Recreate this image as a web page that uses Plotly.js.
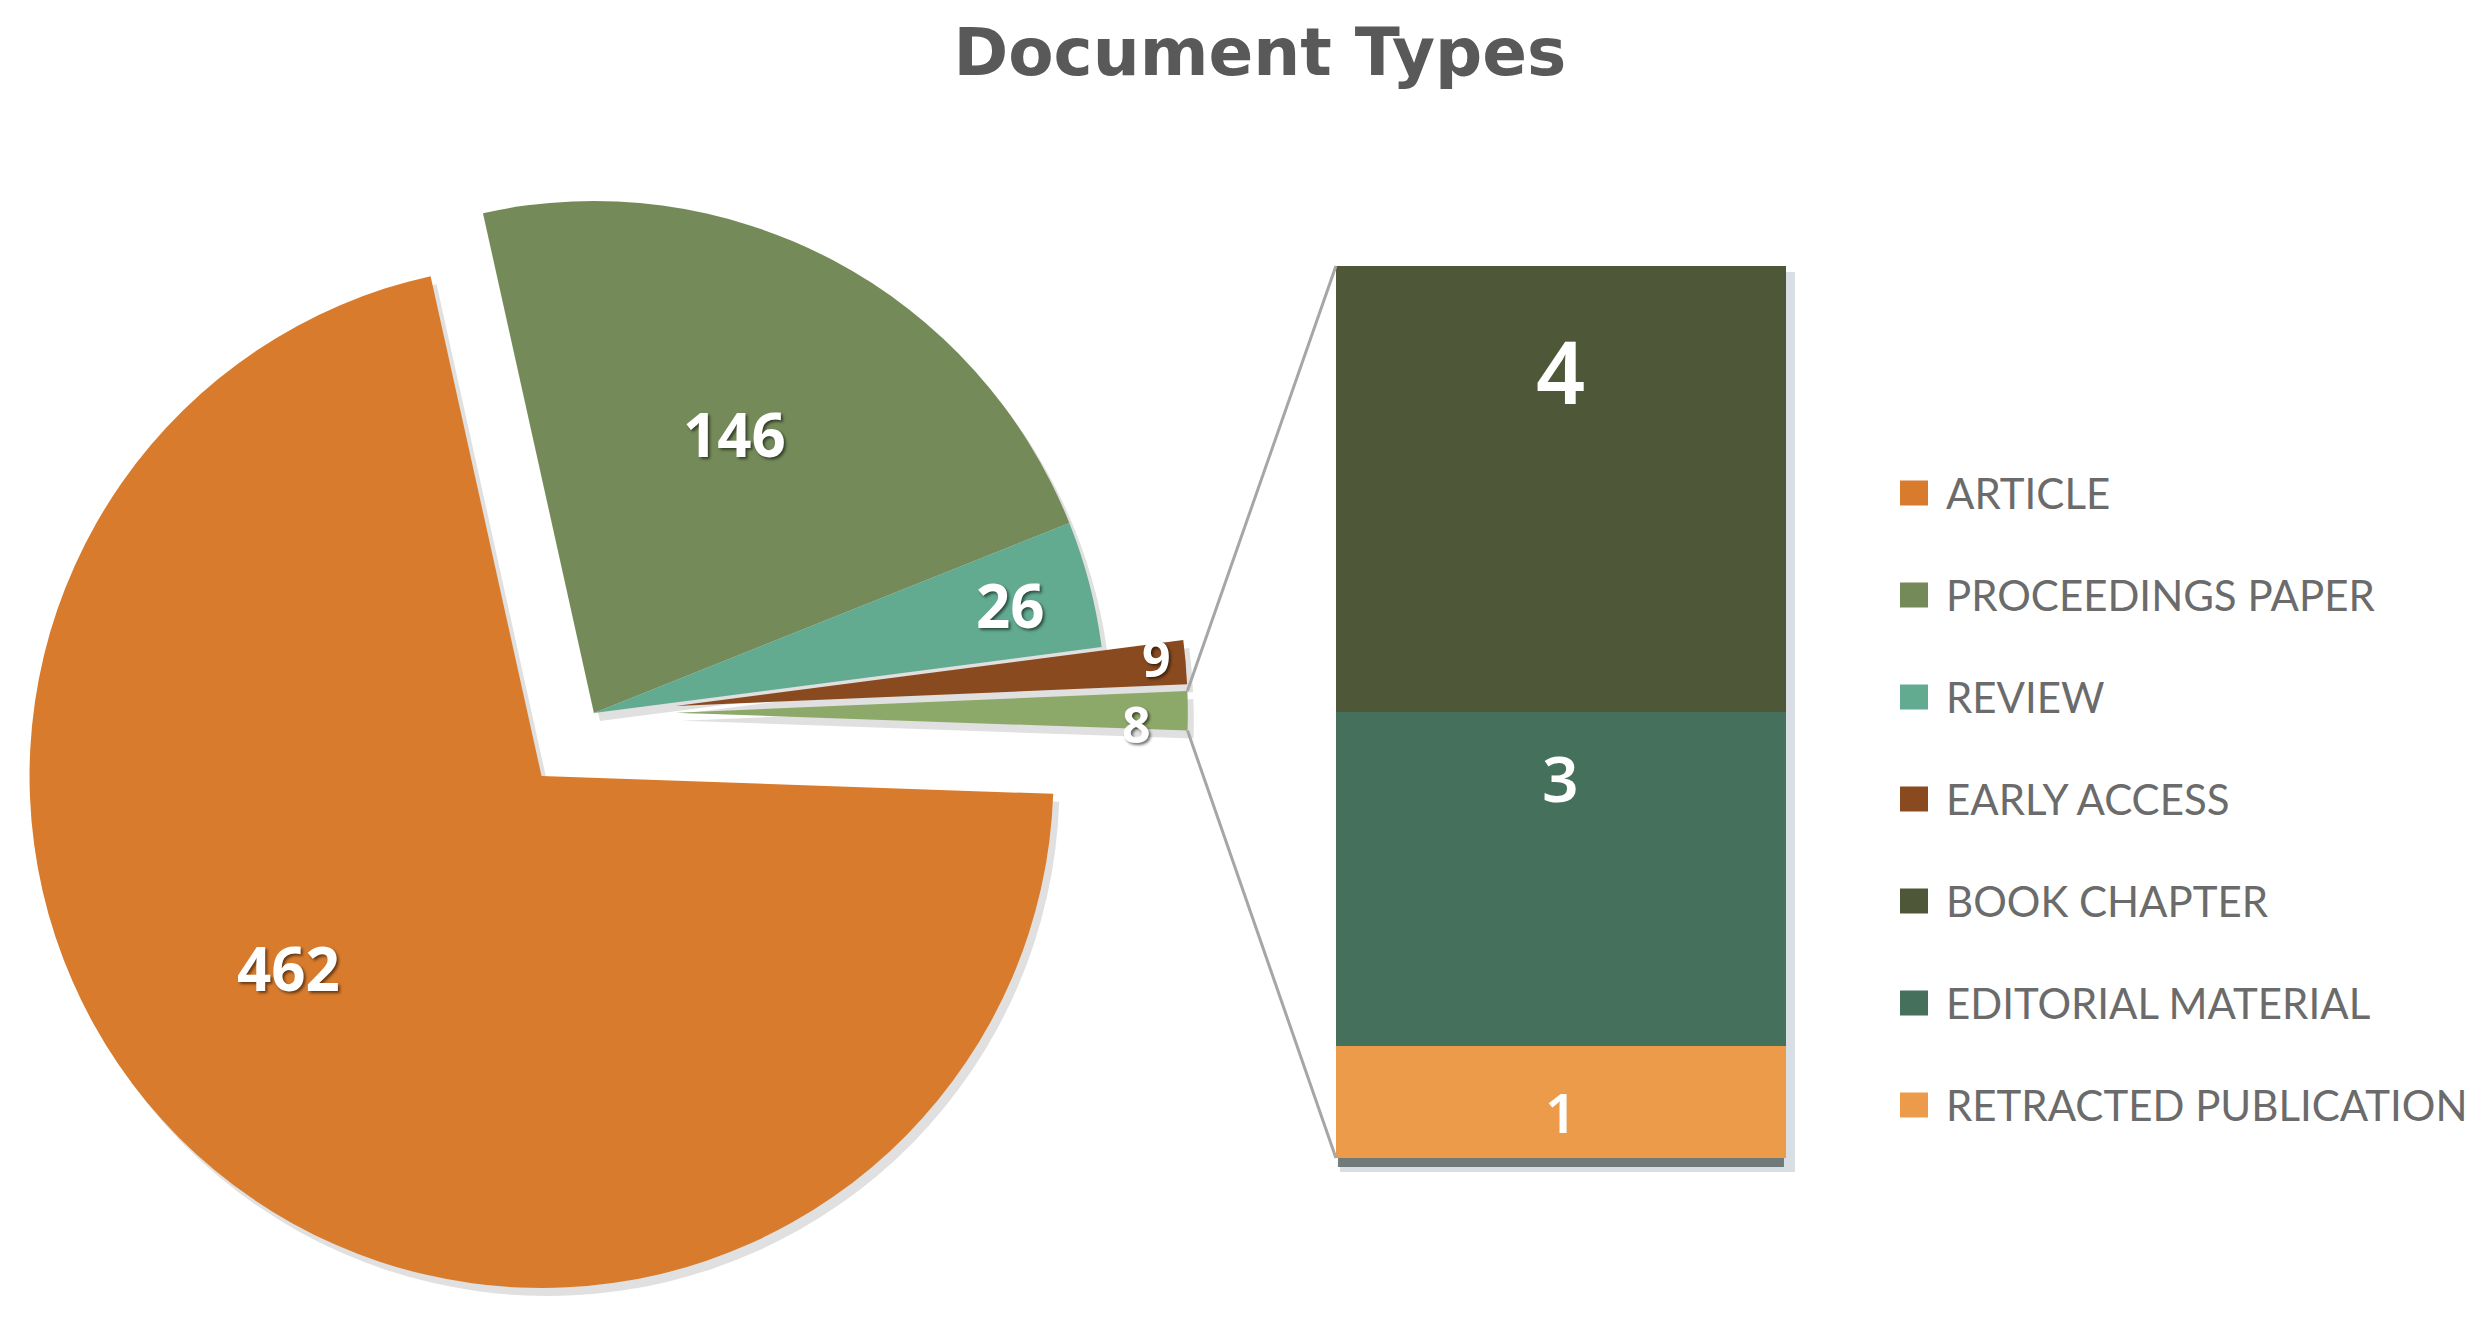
<!DOCTYPE html>
<html>
<head>
<meta charset="utf-8">
<script src="https://cdn.plot.ly/plotly-3.0.1.min.js"></script>
<style>html,body{margin:0;padding:0;background:#fff}#chart{width:2485px;height:1321px}</style>
</head>
<body>
<div id="chart"></div>
<script>
// pie of bar: the last pie slice ("OTHER") is split up in the stacked bar
const pieLabels = ["ARTICLE", "PROCEEDINGS PAPER", "REVIEW", "EARLY ACCESS", "OTHER"];
const pieValues = [462, 146, 26, 9, 8];
const pieColors = ["#D97B2C", "#748B59", "#62AB91", "#8A4A1F", "#8DA96A"];
const piePull = [0.16, 0, 0, 0.16, 0.16];

// stacked bar, bottom to top
const barLabels = ["RETRACTED PUBLICATION", "EDITORIAL MATERIAL", "BOOK CHAPTER"];
const barValues = [1, 3, 4];
const barColors = ["#EC9B4B", "#44705C", "#4E5839"];

// legend order as in the original
const legendNames = pieLabels.slice(0, 4).concat(barLabels.slice().reverse());
const legendColors = pieColors.slice(0, 4).concat(barColors.slice().reverse());

const W = 2485, H = 1321;
const pieDomain = { x: [0, 0.478], y: [0.0098, 0.9107] };
const pieRotation = 92;
const barDomX = [0.5376, 0.7187], barDomY = [0.1234, 0.7986];
// where the value labels sit in each slice (fraction of radius, degrees off the slice middle)
const labelR = [0.62, 0.61, 0.84, 0.945, 0.90];
const labelDA = [13, -1, 0, -0.8, 1.6];
const labelSize = [60, 60, 60, 50, 50];
// bar labels: font size and drop below the top of each segment (px)
const barTextSize = [55, 64, 86];
const barTextDrop = [65, 65, 104];

const total = pieValues.reduce((a, b) => a + b, 0);
const barTotal = barValues.reduce((a, b) => a + b, 0);
const px = x => x / W, py = y => 1 - y / H;

// soft shadow: same pie, shifted a little
const shDx = 6 / W, shDy = 8 / H;
const traces = [{
  type: "pie", labels: pieLabels, values: pieValues, sort: false,
  direction: "clockwise", rotation: pieRotation, pull: piePull,
  marker: { colors: pieLabels.map(() => "rgba(60,60,60,0.16)"), line: { width: 0 } },
  textinfo: "none", hoverinfo: "skip", showlegend: false,
  domain: { x: [pieDomain.x[0] + shDx, pieDomain.x[1] + shDx], y: [pieDomain.y[0] - shDy, pieDomain.y[1] - shDy] }
}, {
  type: "pie", labels: pieLabels, values: pieValues, sort: false,
  direction: "clockwise", rotation: pieRotation, pull: piePull,
  marker: { colors: pieColors, line: { width: 0 } },
  textinfo: "none", domain: pieDomain, showlegend: false, hoverinfo: "label+value"
}];

const annotations = [];
let stackTop = 0;
barLabels.forEach((name, i) => {
  traces.push({
    type: "bar", x: ["other"], y: [barValues[i]], name: name, width: 1,
    marker: { color: barColors[i], line: { width: 0 } },
    textposition: "none", showlegend: false, hoverinfo: "name+y"
  });
  stackTop += barValues[i];
  annotations.push({ xref: "x", yref: "y", x: "other", y: stackTop, yshift: -barTextDrop[i],
    xanchor: "center", yanchor: "middle", showarrow: false, text: String(barValues[i]),
    font: { family: "Noto Sans", size: barTextSize[i], color: "white", weight: 600 } });
});

// pie geometry (same rule plotly uses to size the pie)
const boxW = W * (pieDomain.x[1] - pieDomain.x[0]);
const boxH = H * (pieDomain.y[1] - pieDomain.y[0]);
const r = Math.min(boxW, boxH) / 2 / (1 + Math.max(...piePull));
const cx = W * (pieDomain.x[0] + pieDomain.x[1]) / 2;
const cy = H * (1 - pieDomain.y[0]) - boxH / 2;
const rad = d => d * Math.PI / 180;

const slices = [];
let acc = 0;
pieValues.forEach((v, i) => {
  const a0 = rad(pieRotation + 360 * acc / total);
  acc += v;
  const a1 = rad(pieRotation + 360 * acc / total);
  const am = (a0 + a1) / 2;
  const pcx = cx + piePull[i] * r * Math.sin(am), pcy = cy - piePull[i] * r * Math.cos(am);
  slices.push({ a0, a1, pcx, pcy });
  const la = am + rad(labelDA[i]);
  annotations.push({ xref: "paper", yref: "paper", showarrow: false, borderpad: 0,
    x: px(pcx + labelR[i] * r * Math.sin(la)), y: py(pcy - labelR[i] * r * Math.cos(la)),
    xanchor: "center", yanchor: "middle", text: String(v),
    font: { family: "Open Sans", size: labelSize[i], color: "white", weight: 700,
            shadow: "2px 2px 3px rgba(0,0,0,0.55)" } });
});

// connector lines: corners of the "other" slice -> corners of the bar
const o = slices[slices.length - 1];
const lineStyle = { color: "#A6A6A6", width: 3 };
const shapes = [
  { type: "line", xref: "paper", yref: "paper", line: lineStyle,
    x0: px(o.pcx + r * Math.sin(o.a0)), y0: py(o.pcy - r * Math.cos(o.a0)), x1: barDomX[0], y1: barDomY[1] },
  { type: "line", xref: "paper", yref: "paper", line: lineStyle,
    x0: px(o.pcx + r * Math.sin(o.a1)), y0: py(o.pcy - r * Math.cos(o.a1)), x1: barDomX[0], y1: barDomY[0] },
  // bar shadow
  { type: "rect", xref: "paper", yref: "paper", layer: "below", line: { width: 0 },
    fillcolor: "rgba(200,208,215,0.7)",
    x0: barDomX[0] + 4 / W, x1: barDomX[1] + 9 / W, y0: barDomY[0] - 14 / H, y1: barDomY[1] - 6 / H },
  { type: "rect", xref: "paper", yref: "paper", layer: "below", line: { width: 0 },
    fillcolor: "rgba(95,105,105,0.85)",
    x0: barDomX[0] + 2 / W, x1: barDomX[1] - 2 / W, y0: barDomY[0] - 9 / H, y1: barDomY[0] + 2 / H }
];

// legend
const LEG_X = 1900, LEG_Y0 = 493, LEG_STEP = 102, SQ_W = 28, SQ_H = 25;
legendNames.forEach((name, i) => {
  const y = LEG_Y0 + i * LEG_STEP;
  shapes.push({ type: "rect", xref: "paper", yref: "paper", line: { width: 0 },
    fillcolor: legendColors[i],
    x0: px(LEG_X), x1: px(LEG_X + SQ_W), y0: py(y + SQ_H / 2), y1: py(y - SQ_H / 2) });
  annotations.push({ xref: "paper", yref: "paper", x: px(LEG_X + 44), y: py(y),
    xanchor: "left", yanchor: "middle", showarrow: false, text: name,
    font: { family: "Lato", size: 42, color: "#6B6B6B" } });
});

const layout = {
  width: W, height: H, margin: { l: 0, r: 0, t: 0, b: 0 },
  paper_bgcolor: "white", plot_bgcolor: "rgba(0,0,0,0)",
  barmode: "stack", showlegend: false,
  title: { text: "Document Types", x: 0.507, xanchor: "center", y: 0.961, yanchor: "middle",
           font: { family: "DejaVu Sans", size: 66, color: "#595959", weight: 700 } },
  xaxis: { domain: barDomX, range: [-0.5, 0.5], visible: false, fixedrange: true },
  yaxis: { domain: barDomY, range: [0, barTotal], visible: false, fixedrange: true },
  shapes: shapes, annotations: annotations
};

Plotly.newPlot("chart", traces, layout, { displayModeBar: false, responsive: false });
</script>
</body>
</html>
